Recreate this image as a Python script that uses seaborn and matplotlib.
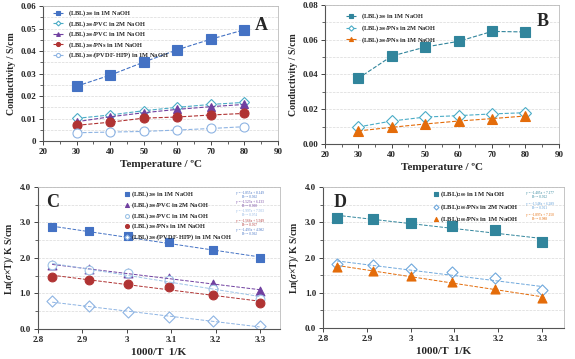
import numpy as np
import matplotlib.pyplot as plt
import seaborn as sns
from matplotlib.ticker import MultipleLocator, FuncFormatter

sns.set_theme(style="white")
plt.rcParams['font.family'] = ['Liberation Serif', 'DejaVu Serif']
plt.rcParams['mathtext.fontset'] = 'stix'
plt.rcParams['font.weight'] = 'bold'
plt.rcParams['axes.labelweight'] = 'bold'

# ---- data ----
temps = [30, 40, 50, 60, 70, 80]
inv_t = [2.832, 2.914, 3.002, 3.094, 3.193, 3.299]  # 1000/T

# panel A: conductivity (S/cm)
a_lbl = [0.0244, 0.0293, 0.0351, 0.0406, 0.0453, 0.0495]
a_pvc2 = [0.0101, 0.0116, 0.0135, 0.0150, 0.0163, 0.0172]
a_pvc1 = [0.0086, 0.0108, 0.0126, 0.0141, 0.0153, 0.0163]
a_pns1 = [0.0070, 0.0084, 0.0102, 0.0107, 0.0116, 0.0123]
a_pvdf = [0.0037, 0.0040, 0.0043, 0.0049, 0.0056, 0.0064]

# panel B
b_lbl = [0.0378, 0.0506, 0.0558, 0.0591, 0.0648, 0.0645]
b_pns2 = [0.0098, 0.0132, 0.0155, 0.0163, 0.0173, 0.0180]
b_pns1 = [0.0075, 0.0096, 0.0115, 0.0132, 0.0146, 0.0161]

# panel C: ln(sigma*T)
c_lbl = [2.86, 2.75, 2.61, 2.44, 2.23, 2.00]
c_pvc2 = [1.79, 1.69, 1.59, 1.45, 1.27, 1.08]
c_pvc1 = [1.79, 1.67, 1.57, 1.39, 1.14, 0.85]
c_pns1 = [1.47, 1.38, 1.27, 1.18, 0.97, 0.72]
c_pvdf = [0.78, 0.64, 0.47, 0.34, 0.22, 0.08]

# panel D
d_lbl = [3.13, 3.10, 2.98, 2.89, 2.77, 2.44]
d_pns2 = [1.83, 1.78, 1.67, 1.59, 1.41, 1.07]
d_pns1 = [1.73, 1.63, 1.49, 1.32, 1.10, 0.85]

lab_lbl = "(LBL)$_{200}$ in 1M NaOH"
lab_pvc2 = "(LBL)$_{200}$/PVC in 2M NaOH"
lab_pvc1 = "(LBL)$_{200}$/PVC in 1M NaOH"
lab_pns1 = "(LBL)$_{200}$/PNs in 1M NaOH"
lab_pns2 = "(LBL)$_{200}$/PNs in 2M NaOH"
lab_pvdf = "(LBL)$_{200}$/(PVDF-HFP) in 1M NaOH"

blue = "#4472C4"
cyan = "#4BACC6"
purple = "#7040A0"
red = "#B03333"
lblue = "#8EB4E3"
teal = "#31859C"
orange = "#E46C0A"

fig = plt.figure(figsize=(5.75, 3.59), dpi=100)
axA = fig.add_axes([0.0748, 0.607, 0.4087, 0.376])
axB = fig.add_axes([0.565, 0.599, 0.407, 0.387])
axC = fig.add_axes([0.066, 0.0836, 0.421, 0.3955])
axD = fig.add_axes([0.5617, 0.086, 0.419, 0.393])


def style_axis(ax):
    for s in ['left', 'bottom']:
        ax.spines[s].set_color('#555555')
        ax.spines[s].set_linewidth(0.8)
    for s in ['top', 'right']:
        ax.spines[s].set_color('#bbbbbb')
        ax.spines[s].set_linewidth(0.6)
    ax.tick_params(axis='both', which='major', labelsize=6.5, length=3,
                   width=0.6, direction='out', pad=2, bottom=True, left=True)
    ax.tick_params(axis='both', which='minor', length=2, width=0.5,
                   direction='out', bottom=True, left=True)
    ax.grid(True, which='both', axis='y', color='#d9d9d9', linewidth=0.5,
            linestyle='--')
    for t in ax.get_xticklabels() + ax.get_yticklabels():
        t.set_fontweight('bold')


def line(ax, y, color, marker, label, ms, open_=False):
    sns.lineplot(x=temps, y=y, ax=ax, color=color, marker=marker,
                 markersize=ms, linestyle='--', linewidth=0.8,
                 markerfacecolor='white' if open_ else color,
                 markeredgecolor=color, markeredgewidth=0.8, label=label)


def fit(ax, y, color, marker, label, s, open_=False):
    sns.regplot(x=inv_t, y=y, ax=ax, ci=None, marker=marker, label=label,
                color=color, truncate=True,
                scatter_kws={'s': s, 'facecolor': 'white' if open_ else color,
                             'linewidths': 0.8, 'alpha': 1},
                line_kws={'linestyle': '--', 'linewidth': 0.7})
    k, b = np.polyfit(inv_t, y, 1)
    r2 = np.corrcoef(inv_t, y)[0, 1] ** 2
    return f"y = {k:.3f}x + {b:.3f}\nR² = {r2:.3f}"


# ---- Panel A ----
line(axA, a_lbl, blue, 's', lab_lbl, 7)
line(axA, a_pvc2, cyan, 'D', lab_pvc2, 5.5, open_=True)
line(axA, a_pvc1, purple, '^', lab_pvc1, 6)
line(axA, a_pns1, red, 'o', lab_pns1, 6.5)
line(axA, a_pvdf, lblue, 'o', lab_pvdf, 6.5, open_=True)
axA.set_xlim(20, 90)
axA.set_ylim(0, 0.06)
axA.xaxis.set_major_locator(MultipleLocator(10))
axA.xaxis.set_minor_locator(MultipleLocator(5))
axA.yaxis.set_major_locator(MultipleLocator(0.01))
axA.yaxis.set_minor_locator(MultipleLocator(0.005))
axA.yaxis.set_major_formatter(FuncFormatter(lambda v, p: '0' if abs(v) < 1e-9 else f'{v:.2f}'))
axA.set_xlabel("Temperature / ºC", fontsize=8, labelpad=3)
axA.set_ylabel("Conductivity / S/cm", fontsize=7, labelpad=3)
axA.legend(loc='upper left', bbox_to_anchor=(0.03, 1.0), fontsize=4.6,
           frameon=False, handlelength=1.6, labelspacing=0.12,
           borderaxespad=0, markerscale=0.45)
axA.text(0.93, 0.86, "A", transform=axA.transAxes, fontsize=13,
         fontweight='bold', ha='center', va='center')
style_axis(axA)

# ---- Panel B ----
line(axB, b_lbl, teal, 's', lab_lbl, 7.5)
line(axB, b_pns2, cyan, 'D', lab_pns2, 6, open_=True)
line(axB, b_pns1, orange, '^', lab_pns1, 6.5)
axB.set_xlim(20, 90)
axB.set_ylim(0, 0.08)
axB.xaxis.set_major_locator(MultipleLocator(10))
axB.xaxis.set_minor_locator(MultipleLocator(5))
axB.yaxis.set_major_locator(MultipleLocator(0.02))
axB.yaxis.set_minor_locator(MultipleLocator(0.01))
axB.yaxis.set_major_formatter(FuncFormatter(lambda v, p: f'{v:.2f}'))
axB.set_xlabel("Temperature / ºC", fontsize=8, labelpad=3)
axB.set_ylabel("Conductivity / S/cm", fontsize=7, labelpad=3)
axB.legend(loc='upper left', bbox_to_anchor=(0.08, 0.97), fontsize=4.6,
           frameon=False, handlelength=1.6, labelspacing=0.3,
           borderaxespad=0, markerscale=0.45)
axB.text(0.93, 0.88, "B", transform=axB.transAxes, fontsize=13,
         fontweight='bold', ha='center', va='center')
style_axis(axB)

# ---- Panel C ----
eqC = [
    (fit(axC, c_lbl, blue, 's', lab_lbl, 40), blue),
    (fit(axC, c_pvc2, purple, '^', lab_pvc2, 40), purple),
    (fit(axC, c_pvc1, "#9DC3E6", 'o', lab_pvc1, 40, open_=True), lblue),
    (fit(axC, c_pns1, red, 'o', lab_pns1, 40), red),
    (fit(axC, c_pvdf, lblue, 'D', lab_pvdf, 32, open_=True), blue),
]
axC.set_xlim(2.8, 3.345)
axC.set_ylim(0, 4.0)
axC.xaxis.set_major_locator(MultipleLocator(0.1))
axC.xaxis.set_major_formatter(FuncFormatter(lambda v, p: f'{v:g}'))
axC.yaxis.set_major_locator(MultipleLocator(1.0))
axC.yaxis.set_minor_locator(MultipleLocator(0.5))
axC.yaxis.set_major_formatter(FuncFormatter(lambda v, p: f'{v:.1f}'))
axC.set_xlabel("1000/T  1/K", fontsize=8, labelpad=3)
axC.set_ylabel("Ln($\\sigma$×T)/ K S/cm", fontsize=7, labelpad=3)
axC.legend(loc='upper left', bbox_to_anchor=(0.35, 1.0), fontsize=4.6,
           frameon=False, handlelength=0.6, handletextpad=0.3,
           labelspacing=0.15, borderaxespad=0, markerscale=0.45)
for i, (txt, col) in enumerate(eqC):
    axC.text(0.875, 0.975 - i * 0.066, txt, transform=axC.transAxes,
             fontsize=2.5, color=col, ha='center', va='top',
             fontweight='normal', linespacing=1.0)
axC.text(0.06, 0.89, "C", transform=axC.transAxes, fontsize=13,
         fontweight='bold', ha='center', va='center')
style_axis(axC)

# ---- Panel D ----
eqD = [
    (fit(axD, d_lbl, teal, 's', lab_lbl, 42), teal),
    (fit(axD, d_pns2, "#6FA8DC", 'D', lab_pns2, 32, open_=True), "#5B9BD5"),
    (fit(axD, d_pns1, orange, '^', lab_pns1, 42), orange),
]
axD.set_xlim(2.8, 3.35)
axD.set_ylim(0, 4.0)
axD.xaxis.set_major_locator(MultipleLocator(0.1))
axD.xaxis.set_major_formatter(FuncFormatter(lambda v, p: f'{v:g}'))
axD.yaxis.set_major_locator(MultipleLocator(1.0))
axD.yaxis.set_minor_locator(MultipleLocator(0.5))
axD.yaxis.set_major_formatter(FuncFormatter(lambda v, p: f'{v:.1f}'))
axD.set_xlabel("1000/T  1/K", fontsize=8, labelpad=3)
axD.set_ylabel("Ln($\\sigma$×T)/ K S/cm", fontsize=7, labelpad=3)
axD.legend(loc='upper left', bbox_to_anchor=(0.45, 1.0), fontsize=4.8,
           frameon=False, handlelength=0.6, handletextpad=0.3,
           labelspacing=0.4, borderaxespad=0, markerscale=0.45)
for i, (txt, col) in enumerate(eqD):
    axD.text(0.9, 0.975 - i * 0.08, txt, transform=axD.transAxes,
             fontsize=2.5, color=col, ha='center', va='top',
             fontweight='normal', linespacing=1.0)
axD.text(0.07, 0.89, "D", transform=axD.transAxes, fontsize=13,
         fontweight='bold', ha='center', va='center')
style_axis(axD)

fig.savefig("out.png", dpi=100)
